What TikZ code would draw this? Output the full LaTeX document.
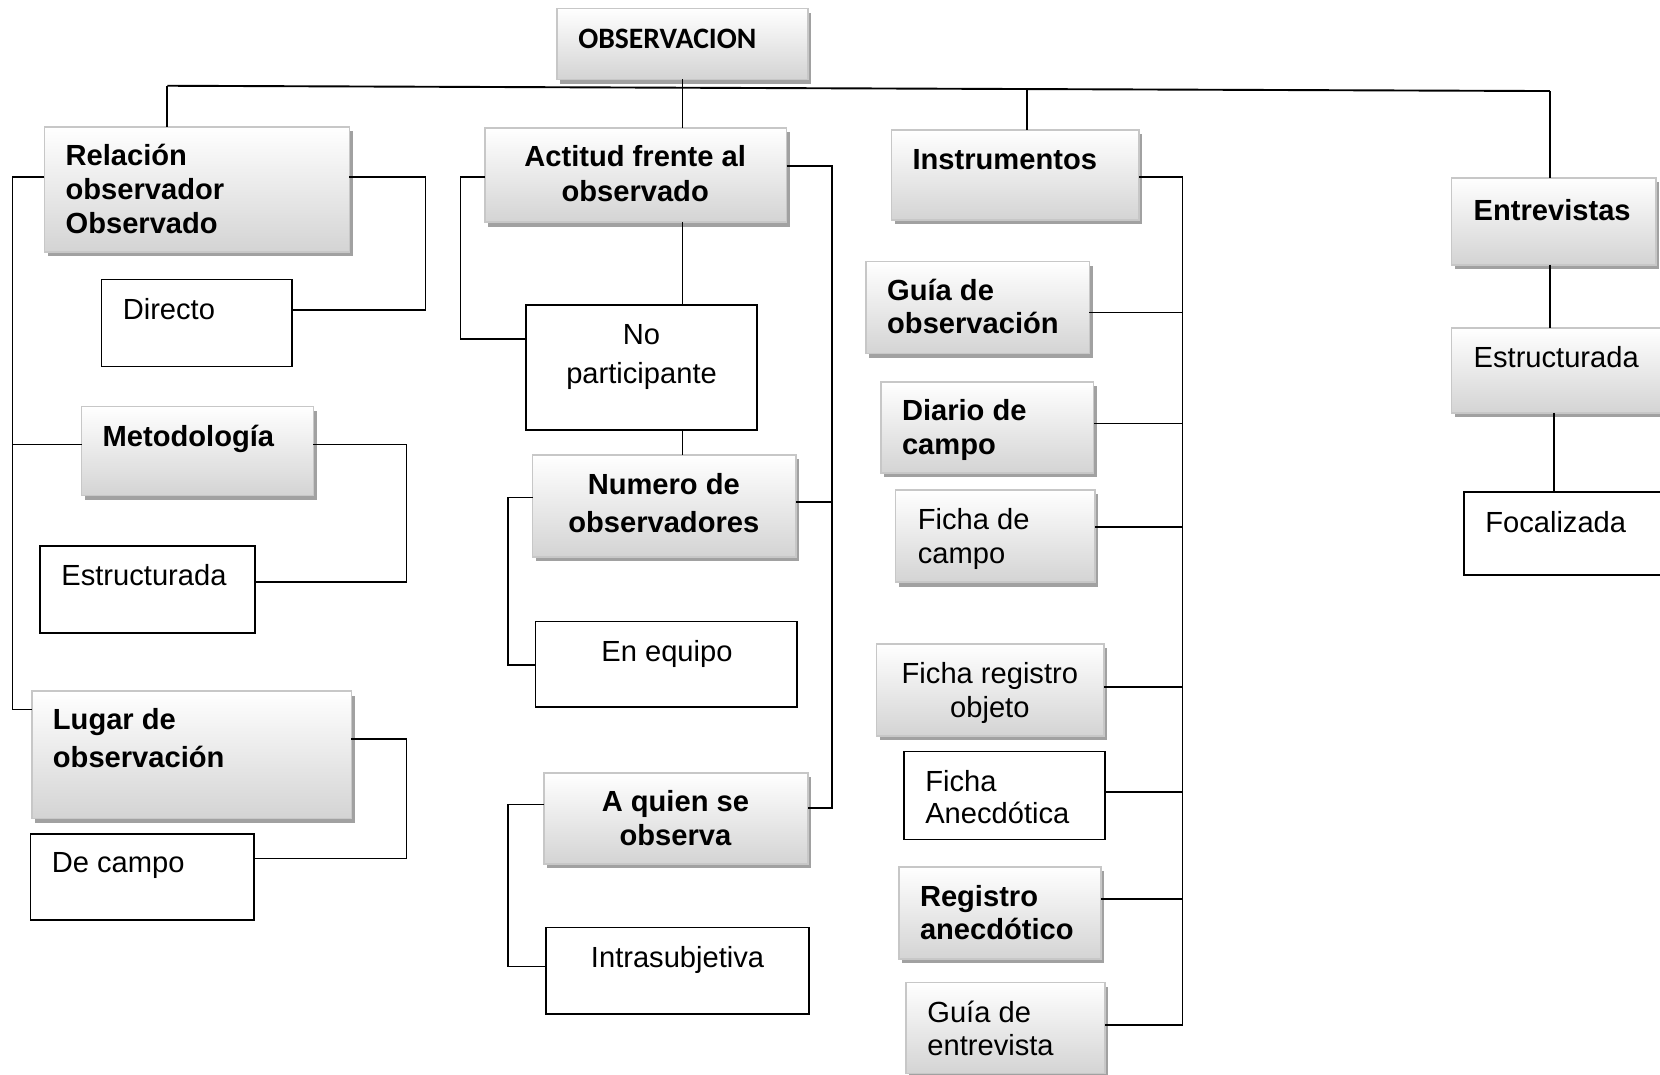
\documentclass[tikz,border=0pt]{standalone}
\usepackage{fontspec}
\setmainfont{Liberation Sans}
\newfontfamily\carlfont{Carlito}
\usetikzlibrary{shadows}
\begin{document}
\begin{tikzpicture}[x=1pt,y=-1pt,
 shbox/.style={draw=black!22, line width=1.6pt, top color=white, bottom color=black!17,
   drop shadow={shadow xshift=3pt, shadow yshift=-4pt, fill=black!37, opacity=1},
   inner sep=0pt, outer sep=0pt},
 plbox/.style={draw=black, line width=1.5pt, fill=white, inner sep=0pt, outer sep=0pt},
 conn/.style={line width=1.5pt, black},
 tx/.style={inner sep=0pt, outer sep=0pt, align=left, anchor=north west, font=\fontsize{27.5}{#1}\selectfont},
 tx/.default=32,
 bx/.style={tx=#1, font=\fontsize{27.5}{#1}\selectfont\bfseries},
 bx/.default=32,
 cx/.style={tx=#1, align=center, anchor=north},
 cx/.default=32,
 cbx/.style={bx=#1, align=center, anchor=north},
 cbx/.default=32]
\useasboundingbox (0,0) rectangle (1568,1015);
\clip (0,0) rectangle (1568,1015);

% ---- boxes ----
\node[shbox, minimum width=237pt, minimum height=67pt] (obs) at (644.5,41.5) {};
\node[shbox, minimum width=288pt, minimum height=118pt] (rel) at (186,179) {};
\node[plbox, minimum width=180pt, minimum height=82pt] (dir) at (186,305) {};
\node[shbox, minimum width=219pt, minimum height=84pt] (met) at (186.5,426) {};
\node[plbox, minimum width=203pt, minimum height=82pt] (est1) at (139.5,557) {};
\node[shbox, minimum width=302pt, minimum height=120pt] (lug) at (181,713) {};
\node[plbox, minimum width=211pt, minimum height=81pt] (dec) at (134.5,828.5) {};

\node[shbox, minimum width=285pt, minimum height=89pt] (act) at (600.5,165.5) {};
\node[plbox, minimum width=218pt, minimum height=118pt] (nop) at (606,347) {};
\node[shbox, minimum width=249pt, minimum height=96pt] (num) at (627.5,478) {};
\node[plbox, minimum width=247pt, minimum height=81pt] (eneq) at (629.5,627.5) {};
\node[shbox, minimum width=249pt, minimum height=86pt] (aqs) at (638.5,773) {};
\node[plbox, minimum width=248pt, minimum height=82pt] (intra) at (640,917) {};

\node[shbox, minimum width=234pt, minimum height=85pt] (ins) at (959,165.5) {};
\node[shbox, minimum width=211pt, minimum height=87pt] (gobs) at (923.5,290.5) {};
\node[shbox, minimum width=201pt, minimum height=86pt] (dia) at (932.5,404) {};
\node[shbox, minimum width=188pt, minimum height=87pt] (fcam) at (940,506.5) {};
\node[shbox, minimum width=215pt, minimum height=87pt] (freg) at (935.5,651.5) {};
\node[plbox, minimum width=190pt, minimum height=83pt] (fane) at (949,751.5) {};
\node[shbox, minimum width=191pt, minimum height=87pt] (rega) at (944.5,862.5) {};
\node[shbox, minimum width=188pt, minimum height=86pt] (gent) at (950,971) {};

\node[shbox, minimum width=193pt, minimum height=82pt] (entr) at (1467.5,209) {};
\node[shbox, minimum width=209pt, minimum height=80pt] (est2) at (1475.5,350) {};
\node[plbox, minimum width=207pt, minimum height=78pt] (foc) at (1486.5,504) {};

% ---- junction coordinates ----
\coordinate (busL) at (158,81);
\coordinate (busR) at (1464,86);
\coordinate (busI) at (970,84.1);
\coordinate (s1) at (12,167);
\coordinate (s2) at (12,420);
\coordinate (s3) at (12,670);
\coordinate (r1) at (402,167);
\coordinate (r2) at (402,293);
\coordinate (m1) at (384,420);
\coordinate (m2) at (384,550);
\coordinate (l1) at (384,698);
\coordinate (l2) at (384,811);
\coordinate (a1) at (435,167);
\coordinate (a2) at (435,320);
\coordinate (b1) at (786,157);
\coordinate (b2) at (786,474);
\coordinate (b3) at (786,763);
\coordinate (n1) at (480,470);
\coordinate (n2) at (480,628);
\coordinate (q1) at (480,760);
\coordinate (q2) at (480,913);
\coordinate (i0) at (1117,167);
\coordinate (i1) at (1117,295);
\coordinate (i2) at (1117,400);
\coordinate (i3) at (1117,498);
\coordinate (i4) at (1117,649);
\coordinate (i5) at (1117,748);
\coordinate (i6) at (1117,849);
\coordinate (i7) at (1117,968);
\coordinate (ex) at (1468,400);

% ---- connectors ----
\draw[conn, line width=1.8pt] (busL) -- (busR);
\draw[conn] (busL) -- (rel.north -| busL);
\draw[conn] (obs.south) -- (act.north -| obs.south);
\draw[conn] (busI) -- (ins.north -| busI);
\draw[conn] (busR) -- (entr.north -| busR);

\draw[conn] (rel.west |- s1) -- (s1) -- (s3) -- (lug.west |- s3);
\draw[conn] (s2) -- (met.west |- s2);
\draw[conn] (rel.east |- r1) -- (r1) -- (r2) -- (dir.east |- r2);
\draw[conn] (met.east |- m1) -- (m1) -- (m2) -- (est1.east |- m2);
\draw[conn] (lug.east |- l1) -- (l1) -- (l2) -- (dec.east |- l2);

\draw[conn] (act.west |- a1) -- (a1) -- (a2) -- (nop.west |- a2);
\draw[conn] (act.south -| obs.south) -- (nop.north -| obs.south);
\draw[conn] (nop.south -| obs.south) -- (num.north -| obs.south);
\draw[conn] (act.east |- b1) -- (b1) -- (b3) -- (aqs.east |- b3);
\draw[conn] (b2) -- (num.east |- b2);
\draw[conn] (num.west |- n1) -- (n1) -- (n2) -- (eneq.west |- n2);
\draw[conn] (aqs.west |- q1) -- (q1) -- (q2) -- (intra.west |- q2);

\draw[conn] (ins.east |- i0) -- (i0) -- (i7) -- (gent.east |- i7);
\draw[conn] (i1) -- (gobs.east |- i1);
\draw[conn] (i2) -- (dia.east |- i2);
\draw[conn] (i3) -- (fcam.east |- i3);
\draw[conn] (i4) -- (freg.east |- i4);
\draw[conn] (i5) -- (fane.east |- i5);
\draw[conn] (i6) -- (rega.east |- i6);

\draw[conn] (entr.south -| busR) -- (est2.north -| busR);
\draw[conn] (est2.south -| ex) -- (foc.north -| ex);

% ---- texts ----
\node[inner sep=0pt, anchor=north west, font=\carlfont\fontsize{28}{31}\selectfont\bfseries] (t-obs) at (546,24) {\strut OBSERVACION};
\node[bx] (t-rel) at (62,134) {\strut Relación\\\strut observador\\\strut Observado};
\node[tx] (t-dir) at (116,279) {\strut Directo};
\node[bx] (t-met) at (97,399) {\strut Metodología};
\node[tx] (t-est1) at (58,531) {\strut Estructurada};
\node[bx=36] (t-lug) at (50,664) {\strut Lugar de\\\strut observación};
\node[tx] (t-dec) at (49,802) {\strut De campo};
\node[cbx=33] (t-act) at (600,134.2) {\strut Actitud frente al\\\strut observado};
\node[cx=37] (t-nop) at (606,299.4) {\strut No\\\strut participante};
\node[cbx=36] (t-num) at (627,442) {\strut Numero de\\\strut observadores};
\node[cx] (t-eneq) at (630,602) {\strut En equipo};
\node[cbx] (t-aqs) at (638,744) {\strut A quien se\\\strut observa};
\node[cx] (t-intra) at (640,891) {\strut Intrasubjetiva};
\node[bx] (t-ins) at (862,138) {\strut Instrumentos};
\node[bx=31] (t-gobs) at (838,262.6) {\strut Guía de\\\strut observación};
\node[bx] (t-dia) at (852,375) {\strut Diario de\\\strut campo};
\node[tx] (t-fcam) at (867,478) {\strut Ficha de\\\strut campo};
\node[cx] (t-freg) at (935,623) {\strut Ficha registro\\\strut objeto};
\node[tx=31] (t-fane) at (874,725.6) {\strut Ficha\\\strut Anecdótica};
\node[bx=31] (t-rega) at (869,834.6) {\strut Registro\\\strut anecdótico};
\node[tx] (t-gent) at (876,943) {\strut Guía de\\\strut entrevista};
\node[bx] (t-entr) at (1392,186) {\strut Entrevistas};
\node[tx] (t-est2) at (1392,325) {\strut Estructurada};
\node[tx] (t-foc) at (1403,481) {\strut Focalizada};
\end{tikzpicture}
\end{document}
